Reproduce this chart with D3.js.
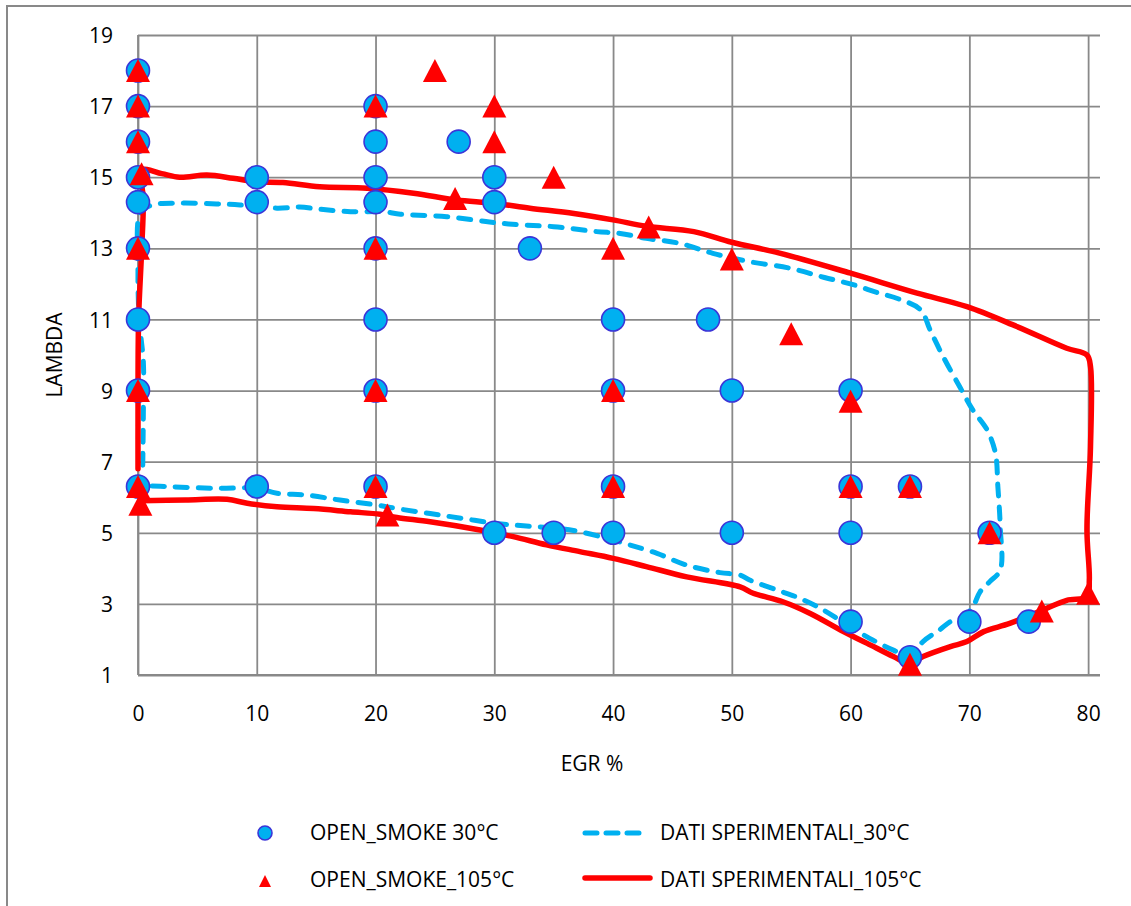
<!DOCTYPE html>
<html>
<head>
<meta charset="utf-8">
<script src="https://cdn.jsdelivr.net/npm/d3@7"></script>
<style>
  html, body { margin: 0; padding: 0; background: #fff; }
  svg text { font-family: "Open Sans", Lato, sans-serif; fill: #000; }
</style>
</head>
<body>
<svg id="chart" width="1131" height="906"></svg>
<script>
// Axis ticks
const xTicks = [0, 10, 20, 30, 40, 50, 60, 70, 80];
const yTicks = [1, 3, 5, 7, 9, 11, 13, 15, 17, 19];

// OPEN_SMOKE 30°C test points [EGR %, lambda]
const smoke30 = [
  [0, 18], [0, 17], [0, 16], [0, 15], [0, 14.3], [0, 13], [0, 11], [0, 9], [0, 6.3],
  [10, 15], [10, 14.3], [10, 6.3],
  [20, 17], [20, 16], [20, 15], [20, 14.3], [20, 13], [20, 11], [20, 9], [20, 6.3],
  [27, 16], [30, 15], [30, 14.3], [30, 5], [33, 13], [35, 5],
  [40, 11], [40, 9], [40, 6.3], [40, 5], [48, 11], [50, 9], [50, 5],
  [60, 9], [60, 6.3], [60, 5], [60, 2.5], [65, 6.3], [65, 1.5],
  [70, 2.5], [71.7, 5], [75, 2.5]
];

// OPEN_SMOKE_105°C test points [EGR %, lambda]
const smoke105 = [
  [0, 18], [0, 17], [0, 16], [0.3, 15.1], [0, 13], [0, 9], [0, 6.3], [0.2, 5.8],
  [20, 17], [20, 13], [20, 9], [20, 6.3], [21, 5.5],
  [25, 18], [26.7, 14.4], [30, 17], [30, 16], [35, 15],
  [40, 13], [43, 13.6], [50, 12.7], [55, 10.6], [40, 9], [40, 6.3],
  [60, 8.7], [60, 6.3], [65, 6.3], [71.7, 5], [76.1, 2.8], [80, 3.3], [65, 1.3]
];

// DATI SPERIMENTALI_30°C boundary [EGR %, lambda]
const boundary30 = [
  [0.4, 6.9], [0.45, 8.4], [0.45, 9.8], [0.1, 11], [0, 12.5], [0.2, 14.0], [1.2, 14.22],
  [3.5, 14.27], [6.6, 14.25], [8.6, 14.22], [11.7, 14.13], [13.6, 14.16], [15.3, 14.1],
  [17.9, 14.03], [20.7, 14.03], [22.1, 13.96], [26, 13.89], [29.6, 13.74], [32.2, 13.66],
  [35, 13.61], [38.6, 13.47], [40.6, 13.42], [42.8, 13.28], [45.6, 13.14], [48.4, 12.86],
  [51.4, 12.63], [54.9, 12.44], [57.8, 12.18], [60.3, 11.97], [62.2, 11.76], [64.1, 11.57],
  [65.9, 11.27], [66.7, 10.7], [67.8, 9.95], [69.2, 9.1], [70.3, 8.45], [71.5, 7.89],
  [72.2, 7.23], [72.4, 6.3], [72.6, 5.17], [72.6, 3.95], [71.7, 3.62], [70.9, 3.34],
  [70.3, 2.92], [69.5, 2.64], [68.4, 2.5], [67.5, 2.27], [66.1, 1.94], [65, 1.52],
  [63.6, 1.7], [61.6, 2.03], [59.7, 2.41], [57.7, 2.83], [55.7, 3.16], [53.8, 3.39],
  [51.5, 3.67], [50.7, 3.81], [49, 3.88], [46.2, 4.09], [43.7, 4.42], [41.4, 4.66],
  [39.5, 4.84], [37.2, 5.03], [35.5, 5.12], [32.7, 5.19], [30.2, 5.26], [27.4, 5.4],
  [24.6, 5.54], [21.8, 5.68], [20.1, 5.78], [17, 5.92], [14.2, 6.06], [11.7, 6.11],
  [10, 6.25], [6.6, 6.25], [2.4, 6.3], [0.7, 6.32]
];

// DATI SPERIMENTALI_105°C boundary [EGR %, lambda]
const boundary105 = [
  [0, 6.8], [0, 8], [0.05, 11], [0.3, 12.9], [0.45, 14.4], [0.3, 15.2], [2, 15.1],
  [3.5, 15.0], [5.8, 15.06], [8, 14.97], [10, 14.87], [12.2, 14.85], [15.3, 14.73],
  [19.3, 14.69], [23.2, 14.55], [26.8, 14.36], [29.9, 14.27], [33, 14.13], [36.7, 13.98],
  [40, 13.8], [42.8, 13.62], [46.8, 13.47], [50, 13.17], [54.1, 12.86], [60, 12.3],
  [65.6, 11.74], [69.8, 11.36], [74, 10.8], [78.2, 10.19], [79.9, 10.0], [80.2, 9.67],
  [80.2, 7.42], [79.9, 5.08], [80.1, 3.67], [79.9, 3.2], [78.2, 3.1], [76.2, 2.83],
  [73.4, 2.45], [71.2, 2.22], [69.8, 1.94], [68.4, 1.8], [66.1, 1.52], [65, 1.33],
  [63.6, 1.52], [61.4, 1.89], [59.4, 2.22], [56.6, 2.73], [54.3, 3.06], [51.8, 3.3],
  [50.7, 3.48], [46.2, 3.76], [42.8, 4.05], [40, 4.28], [37.2, 4.47], [34.4, 4.66],
  [31.6, 4.89], [28.8, 5.08], [24.6, 5.31], [21.8, 5.43], [20.4, 5.52], [17.9, 5.59],
  [14.8, 5.68], [11.7, 5.73], [9.2, 5.83], [7.5, 5.94], [4, 5.92], [0.2, 5.9]
];

const legendLabels = ["OPEN_SMOKE 30°C", "OPEN_SMOKE_105°C", "DATI SPERIMENTALI_30°C", "DATI SPERIMENTALI_105°C"];

const BLUE = "#00B0F0", BLUE_EDGE = "#3B35D8", RED = "#FF0000", GRID = "#898989";
const FONT = 21;

const svg = d3.select("#chart");

// outer chart frame
svg.append("rect")
  .attr("x", 7).attr("y", 6).attr("width", 1140).attr("height", 920)
  .attr("fill", "none").attr("stroke", GRID).attr("stroke-width", 2);

const plotLeft = 138, plotRight = 1100, plotTop = 35, plotBottom = 675;
const x = d3.scaleLinear().domain([0, 81]).range([plotLeft, plotRight]);
const y = d3.scaleLinear().domain([1, 19]).range([plotBottom, plotTop]);

// gridlines + tick labels
const gx = svg.append("g").attr("transform", `translate(0,${plotBottom})`)
  .call(d3.axisBottom(x).tickValues(xTicks).tickSize(-(plotBottom - plotTop)).tickPadding(31).tickFormat(d3.format("d")));
const gy = svg.append("g").attr("transform", `translate(${plotLeft},0)`)
  .call(d3.axisLeft(y).tickValues(yTicks).tickSize(-(plotRight - plotLeft)).tickPadding(25).tickFormat(d3.format("d")));
[gx, gy].forEach(g => {
  g.select(".domain").remove();
  g.selectAll(".tick line").attr("stroke", GRID).attr("stroke-width", 1.8);
  g.selectAll(".tick text").attr("font-size", FONT).attr("fill", "#000");
});
gy.selectAll(".tick text").attr("dy", "0.36em");
// axis lines
svg.append("line").attr("x1", plotLeft).attr("x2", plotRight).attr("y1", plotBottom).attr("y2", plotBottom)
  .attr("stroke", GRID).attr("stroke-width", 1.8);
svg.append("line").attr("x1", plotLeft).attr("x2", plotLeft).attr("y1", plotTop).attr("y2", plotBottom)
  .attr("stroke", GRID).attr("stroke-width", 1.8);

// axis titles
svg.append("text").attr("x", 592).attr("y", 771).attr("text-anchor", "middle")
  .attr("font-size", FONT).text("EGR %");
svg.append("text").attr("transform", "translate(62,355) rotate(-90)").attr("text-anchor", "middle")
  .attr("font-size", FONT).text("LAMBDA");

// boundary lines
const line = d3.line().x(d => x(d[0])).y(d => y(d[1])).curve(d3.curveCatmullRom.alpha(0.5));
svg.append("path").datum(boundary30).attr("d", line)
  .attr("fill", "none").attr("stroke", BLUE).attr("stroke-width", 5)
  .attr("stroke-dasharray", "12,11").attr("stroke-linecap", "round");
svg.append("path").datum(boundary105).attr("d", line)
  .attr("fill", "none").attr("stroke", RED).attr("stroke-width", 5.5)
  .attr("stroke-linejoin", "round").attr("stroke-linecap", "round");

// markers
svg.append("g").selectAll("circle").data(smoke30).join("circle")
  .attr("cx", d => x(d[0])).attr("cy", d => y(d[1])).attr("r", 11.5)
  .attr("fill", BLUE).attr("stroke", BLUE_EDGE).attr("stroke-width", 1.6);

const tri = (cx, cy, w, h) => `M${cx},${cy - h / 2}L${cx + w / 2},${cy + h / 2}L${cx - w / 2},${cy + h / 2}Z`;
svg.append("g").selectAll("path").data(smoke105).join("path")
  .attr("d", d => tri(x(d[0]), y(d[1]), 24, 23))
  .attr("fill", RED);

// legend
const lg = svg.append("g");
lg.append("circle").attr("cx", 265).attr("cy", 833).attr("r", 7)
  .attr("fill", BLUE).attr("stroke", BLUE_EDGE).attr("stroke-width", 1.6);
lg.append("path").attr("d", tri(265, 881, 12, 12)).attr("fill", RED);
lg.append("line").attr("x1", 585).attr("x2", 643).attr("y1", 833).attr("y2", 833)
  .attr("stroke", BLUE).attr("stroke-width", 5).attr("stroke-dasharray", "12,9").attr("stroke-linecap", "round");
lg.append("line").attr("x1", 585).attr("x2", 650).attr("y1", 878).attr("y2", 878)
  .attr("stroke", RED).attr("stroke-width", 5.5).attr("stroke-linecap", "round");
const legendPos = [[310, 840], [310, 887], [660, 840], [660, 887]];
legendLabels.forEach((t, i) => {
  lg.append("text").attr("x", legendPos[i][0]).attr("y", legendPos[i][1])
    .attr("font-size", FONT).text(t);
});
</script>
</body>
</html>
